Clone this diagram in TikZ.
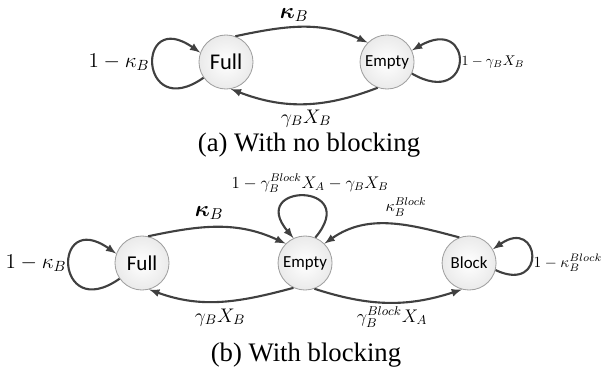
\RequirePackage{fix-cm}
\documentclass[tikz,border=0pt]{standalone}
\usepackage{amsmath}
\usepackage{amssymb}
\usepackage{fontspec}
\setmainfont{Liberation Serif}
\newfontfamily\calib{Carlito}
\usepackage{tikz}
\usetikzlibrary{arrows,shapes,positioning}
\usepackage{xcolor}
\definecolor{dkgray}{RGB}{64,64,64}
\definecolor{ltgray}{RGB}{234,234,234}
\definecolor{rimgray}{RGB}{160,160,160}
\tikzstyle{bufstate} = [circle, minimum size=1.35cm, inner sep=0pt, draw=rimgray, line width=0.6pt, inner color=white, outer color=ltgray]
\tikzstyle{arrow} = [line width=1.5pt,->,>=latex,color=dkgray]
\tikzstyle{biglbl} = [inner sep=1pt, font=\fontsize{15}{18}\selectfont]
\tikzstyle{midlbl} = [inner sep=1pt, font=\fontsize{13}{16}\selectfont]
\tikzstyle{smalllbl} = [inner sep=1pt, font=\fontsize{10}{12}\selectfont]
\tikzstyle{caption} = [inner sep=0pt, font=\fontsize{19}{23}\selectfont]

\begin{document}
\begin{tikzpicture}[x=0.025cm, y=0.025cm, on grid]
\useasboundingbox (0,0) rectangle (603,377);
% (a) no blocking
\node (full1) [bufstate, font=\calib\fontsize{16}{19}\selectfont] at (226,315) {Full};
\node (empty1) [bufstate, font=\calib\fontsize{12}{14}\selectfont, right=4.025cm of full1] {Empty};
\draw[arrow] (full1.70) to[out=12,in=155] (empty1.135);
\draw[arrow] (empty1.-110) to[out=201,in=-21] (full1.-80);
\draw[arrow] (full1.215) to[out=215,in=145,looseness=8] (full1.160);
\draw[arrow] (empty1.-25) to[out=-30,in=30,looseness=8] (empty1.25);
\node (kb1) [biglbl, font=\fontsize{16}{19}\selectfont] at (294,362) {$\boldsymbol{\kappa}_B$};
\node (gx1) [biglbl, font=\fontsize{14}{17}\selectfont, anchor=base] at (306,254) {$\gamma_B X_B$};
\node (stayf1) [biglbl, anchor=east] at (151,315) {$1-\kappa_B$};
\node (staye1) [smalllbl, anchor=west] at (460,315) {$1-\gamma_B X_B$};
\node (capa) [caption] at (309,232) {(a)\ With no blocking};
% (b) with blocking
\node (full2) [bufstate, font=\calib\fontsize{15}{18}\selectfont] at (142,114) {Full};
\node (empty2) [bufstate, font=\calib\fontsize{12}{14}\selectfont, right=4.075cm of full2] {Empty};
\node (block2) [bufstate, font=\calib\fontsize{12}{14}\selectfont, right=4.1cm of empty2] {Block};
\draw[arrow] (full2.77) to[out=12,in=155] (empty2.135);
\draw[arrow] (empty2.-115) to[out=195,in=-20] (full2.-75);
\draw[arrow] (empty2.-70) to[out=-18,in=198] (block2.-105);
\draw[arrow] (block2.111) to[out=165,in=35] (empty2.45);
\draw[arrow] (full2.215) to[out=215,in=145,looseness=8] (full2.160);
\draw[arrow] (empty2.68) to[out=50,in=130,looseness=8.5] (empty2.115);
\draw[arrow] (block2.-15) to[out=-25,in=35,looseness=7] (block2.30);
\node (kb2) [biglbl, font=\fontsize{16}{19}\selectfont] at (209,164) {$\boldsymbol{\kappa}_B$};
\node (gx2) [biglbl, font=\fontsize{14}{17}\selectfont, anchor=base] at (220,55) {$\gamma_B X_B$};
\node (gblk2) [midlbl, anchor=base] at (392,55) {$\gamma_B^{Block} X_A$};
\node (kblk2) [midlbl, font=\fontsize{11.5}{14}\selectfont] at (406,170) {$\kappa_B^{Block}$};
\node (stayf2) [biglbl, anchor=east] at (68,114) {$1-\kappa_B$};
\node (staye2) [midlbl, font=\fontsize{12}{14}\selectfont, anchor=base] at (310,189) {$1-\gamma_B^{Block} X_A-\gamma_B X_B$};
\node (stayb2) [midlbl, font=\fontsize{11}{13}\selectfont, anchor=west] at (532,114) {$1-\kappa_B^{Block}$};
\node (capb) [caption] at (306,22) {(b)\ With blocking};
\end{tikzpicture}
\end{document}
